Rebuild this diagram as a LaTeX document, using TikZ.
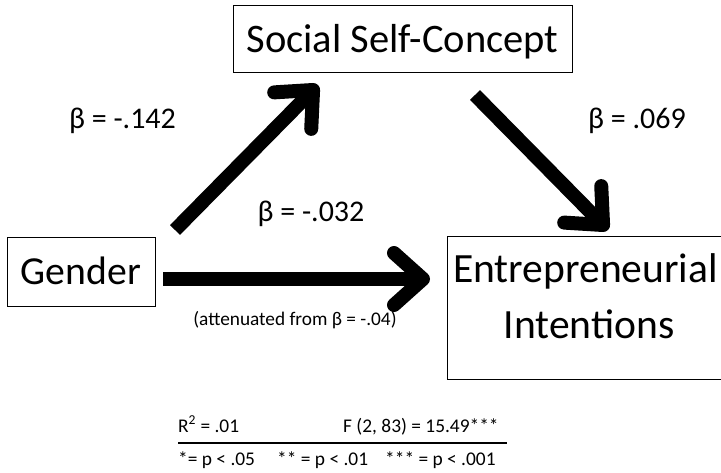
\documentclass[tikz,border=0pt]{standalone}
\usepackage{fontspec}
\setmainfont{Carlito}
\usetikzlibrary{arrows.meta}
\tikzset{
  box/.style={draw, line width=1pt, inner sep=0pt, text depth=0pt},
  bigarrow/.style={line width=14pt, line cap=butt,
    -{Straight Barb[length=29pt, width=52pt, round]}},
  lab/.style={anchor=base, inner sep=0pt, font=\fontsize{30}{36}\selectfont},
  small/.style={anchor=base west, inner sep=0pt, font=\fontsize{19.4}{23}\selectfont},
}
\begin{document}
\begin{tikzpicture}[x=1pt, y=-1pt]
\useasboundingbox (0,0) rectangle (721,473);
% boxes
\node[box, minimum width=339pt, minimum height=67pt, text height=27pt,
      font=\fontsize{40.5}{46}\selectfont] (ssc) at (402.5,39.5) {Social Self-Concept};
\node[box, minimum width=148pt, minimum height=69pt, text height=25pt,
      font=\fontsize{39.7}{46}\selectfont] (gender) at (81,272.5) {Gender};
\node[inner sep=0pt, minimum width=273pt, minimum height=142pt] (ent) at (584.5,308) {};
\draw[line width=1pt] (ent.north east) -| (ent.south west) -- (ent.south east);
\node[lab, font=\fontsize{41.6}{48}\selectfont] (ent1) at (585.5,283) {Entrepreneurial};
\node[lab, font=\fontsize{41.6}{48}\selectfont] (ent2) at (589,338) {Intentions};
% arrow ends
\coordinate (gs) at (175,230);
\coordinate (st) at (318,85);
\coordinate (ss) at (475,95);
\coordinate (et) at (608,230);
\coordinate (gh) at (163,279);
\coordinate (eh) at (430,279);
\draw[bigarrow] (gs) -- (st);
\draw[bigarrow] (ss) -- (et);
\draw[bigarrow] (gh) -- (eh);
% labels
\node[lab] (b1) at (122.5,129) {β = -.142};
\node[lab] (b2) at (637,129) {β = .069};
\node[lab] (b3) at (311,222) {β = -.032};
\node[anchor=base, inner sep=0pt, font=\fontsize{19.3}{23}\selectfont] (att) at (295,326) {(attenuated from β = -.04)};
% statistics
\node[small] (r2) at (178,432) {R\textsuperscript{2} = .01};
\node[small] (f) at (343,432) {F (2, 83) = 15.49***};
\coordinate (rl) at (178,443);
\coordinate (rr) at (507,443);
\draw[line width=1.3pt] (rl) -- (rr);
\node[small] (p1) at (178,465) {*= p < .05};
\node[small] (p2) at (277,465) {** = p < .01};
\node[small] (p3) at (385,465) {*** = p < .001};
\end{tikzpicture}
\end{document}
